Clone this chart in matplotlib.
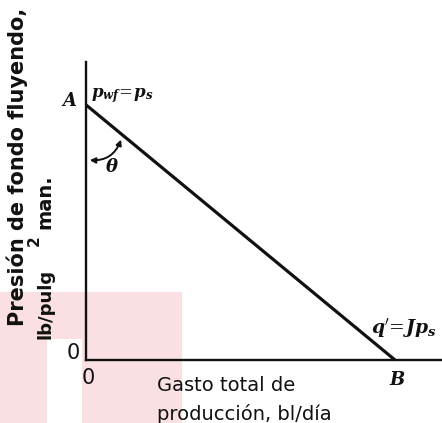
import matplotlib.pyplot as plt
from matplotlib.patches import Rectangle, FancyArrowPatch

# IPR recta: de A (q=0, pwf=ps) a B (q'=J ps, pwf=0)
gasto = [0.0, 1.0]
presion = [1.0, 0.0]
x_max = 1.152
y_max = 1.168

W, H = 442, 423
fig = plt.figure(figsize=(W / 100, H / 100), dpi=100)
plt.rcParams['mathtext.fontset'] = 'dejavuserif'


def fx(px):
    return px / W


def fy(py):
    return 1 - py / H


# manchas rosas del escaneo
pink = '#fae0e2'
fig.patches.append(Rectangle((fx(0), fy(423)), fx(47), fy(339) - fy(423),
                             transform=fig.transFigure, color=pink, zorder=-2, lw=0))
fig.patches.append(Rectangle((fx(0), fy(339)), fx(182), fy(292) - fy(339),
                             transform=fig.transFigure, color=pink, zorder=-2, lw=0))
fig.patches.append(Rectangle((fx(82), fy(423)), fx(182) - fx(82), fy(339) - fy(423),
                             transform=fig.transFigure, color=pink, zorder=-2, lw=0))

ax = fig.add_axes([fx(86), fy(360), fx(442) - fx(86), fy(62) - fy(360)])
ax.set_facecolor('none')
ax.plot(gasto, presion, color='#111111', lw=2.3, solid_capstyle='butt', clip_on=False)
ax.set_xlim(0, x_max)
ax.set_ylim(0, y_max)
for s in ['top', 'right']:
    ax.spines[s].set_visible(False)
for s in ['left', 'bottom']:
    ax.spines[s].set_linewidth(1.7)
    ax.spines[s].set_color('#111111')
ax.set_xticks([])
ax.set_yticks([])

# flecha del angulo theta
arc = FancyArrowPatch((fx(87), fy(160)), (fx(122), fy(137)), transform=fig.transFigure,
                      connectionstyle='arc3,rad=0.4', arrowstyle='<|-|>',
                      mutation_scale=8, lw=1.4, color='#111111')
fig.patches.append(arc)

serif = dict(family='DejaVu Serif', style='italic', weight='bold', color='#111111')
fig.text(fx(69), fy(101), 'A', ha='center', va='center', fontsize=13, **serif)
fig.text(fx(91), fy(96), r'$\mathbfit{p}_{\mathbfit{wf}}\!=\!\mathbfit{p}_{\mathbfit{s}}$',
         ha='left', va='center', fontsize=12, color='#111111')
fig.text(fx(112), fy(167), r'$\mathbfit{\theta}$', ha='center', va='center', fontsize=13,
         color='#111111')
fig.text(fx(371), fy(328), r"$\mathbfit{q}'\!=\!\mathbfit{Jp}_{\mathbfit{s}}$", ha='left',
         va='center', fontsize=13.5, color='#111111')
fig.text(fx(397), fy(380), 'B', ha='center', va='center', fontsize=13, **serif)

sans = dict(family='DejaVu Sans', color='#111111')
fig.text(fx(73), fy(353), '0', ha='center', va='center', fontsize=15, **sans)
fig.text(fx(88), fy(378), '0', ha='center', va='center', fontsize=15, **sans)
fig.text(fx(157), fy(385), 'Gasto total de', ha='left', va='center', fontsize=14, **sans)
fig.text(fx(157), fy(414), 'producción, bl/día', ha='left', va='center', fontsize=14,
         **sans)

ylab = dict(family='DejaVu Sans', weight='bold', color='#111111', rotation=90)
fig.text(fx(17), fy(326), 'Presión de fondo fluyendo,', ha='center', va='bottom',
         fontsize=15, **ylab)
fig.text(fx(45), fy(339), 'lb/pulg', ha='center', va='bottom', fontsize=13, **ylab)
fig.text(fx(34), fy(241), '2', ha='center', va='center', fontsize=11, **ylab)
fig.text(fx(45), fy(229), 'man.', ha='center', va='bottom', fontsize=14, **ylab)

fig.savefig('out.png', dpi=100)
